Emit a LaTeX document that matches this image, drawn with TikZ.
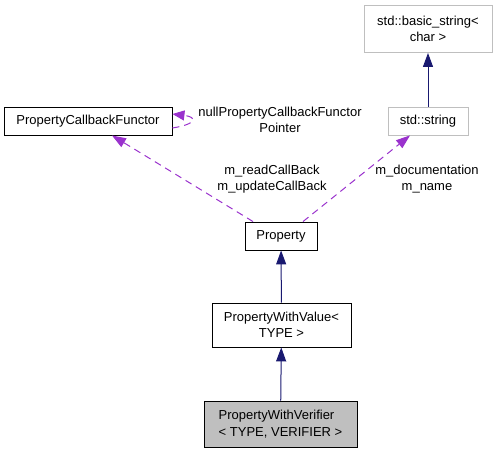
\documentclass[tikz,border=0pt]{standalone}
\usepackage{fontspec}
\setmainfont{Liberation Sans}
\usetikzlibrary{arrows.meta}
\definecolor{navy}{HTML}{191970}
\definecolor{orchid}{HTML}{9A32CD}
\definecolor{boxgray}{HTML}{BFBFBF}
\begin{document}
\begin{tikzpicture}[x=1pt,y=-1pt,
  font=\fontsize{13}{16.5}\selectfont,
  cls/.style={draw=black, line width=0.9pt, fill=white, align=center, inner sep=0pt},
  stdcls/.style={draw=boxgray, line width=0.9pt, fill=white, align=center, inner sep=0pt},
  inh/.style={draw=navy, line width=1pt, -{Triangle[length=14pt,width=10pt]}, color=navy},
  dep/.style={draw=orchid, line width=1pt, dash pattern=on 7pt off 5pt, -{Triangle[length=14pt,width=10pt]}, color=orchid},
  loopdep/.style={dep, -{Triangle[length=12pt,width=10pt]}},
  lbl/.style={align=center, inner sep=0pt}]
\useasboundingbox (0,0) rectangle (496,453);
\node[stdcls, minimum width=128pt, minimum height=47pt] (bs) at (428,29) {std::basic\_string<\\char >};
\node[stdcls, minimum width=80pt, minimum height=28pt] (str) at (428,121) {std::string};
\node[cls, minimum width=168pt, minimum height=28pt] (pcf) at (88,121) {PropertyCallbackFunctor};
\node[cls, minimum width=72pt, minimum height=28pt] (prop) at (281,236) {Property};
\node[cls, minimum width=139pt, minimum height=44pt] (pwv) at (281.5,325) {PropertyWithValue<\\TYPE >};
\node[cls, fill=boxgray, minimum width=153pt, minimum height=46pt, align=left] (pwver) at (280.5,424) {PropertyWithVerifier\\< TYPE, VERIFIER >};

\draw[inh] (pwver) -- (pwv);
\draw[inh] (pwv) -- (prop);
\draw[inh] (str) -- (bs);

\coordinate (propL) at ([xshift=-28pt]prop.north);
\coordinate (propR) at ([xshift=22pt]prop.north);
\coordinate (pcfB) at ([xshift=24pt]pcf.south);
\coordinate (strB) at ([xshift=-18pt]str.south);
\draw[dep] (propL) -- (pcfB);
\draw[dep] (propR) -- (strB);
\draw[loopdep] ([yshift=-7pt]pcf.east) .. controls +(25pt,4pt) and +(25pt,-3pt) .. ([yshift=7pt]pcf.east);

\node[lbl] (l1) at (280,120) {nullPropertyCallbackFunctor\\Pointer};
\node[lbl] (l2) at (272,179) {m\_readCallBack\\m\_updateCallBack};
\node[lbl] (l3) at (427,179) {m\_documentation\\m\_name};
\end{tikzpicture}
\end{document}
